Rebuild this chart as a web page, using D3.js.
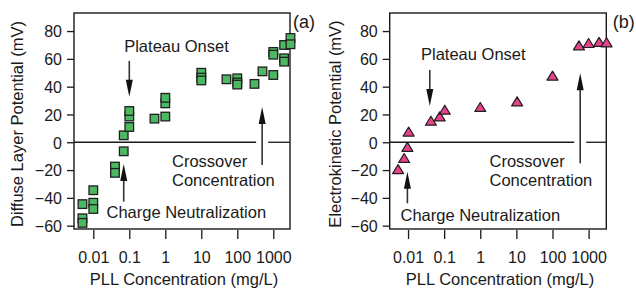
<!DOCTYPE html>
<html><head><meta charset="utf-8">
<script src="https://cdn.jsdelivr.net/npm/d3@7"></script>
<style>
html,body{margin:0;padding:0;background:#fff;}
svg{display:block;font-family:"Liberation Sans",Arial,sans-serif;}
</style></head>
<body>
<svg id="c" width="636" height="288"></svg>
<script>
// ---------- data ----------
const xTickValues = [0.01, 0.1, 1, 10, 100, 1000];
const xTickLabels = ["0.01", "0.1", "1", "10", "100", "1000"];
const yTickValues = [-60, -40, -20, 0, 20, 40, 60, 80];

// panel (a) diffuse layer potential
const concA = [0.005, 0.005, 0.005, 0.01, 0.01, 0.01, 0.04, 0.04, 0.07, 0.07,
               0.1, 0.1, 0.1, 0.5, 1, 1, 1, 10, 10, 10,
               50, 100, 100, 100, 300, 500, 1000, 1000, 1000,
               2000, 2000, 2000, 3000, 3000];
const potA = [-44.5, -54.7, -58, -34.5, -43.5, -48, -17.5, -22, 5, -6.5,
              11, 18.5, 22.5, 17, 18.5, 28, 32, 50, 46.5, 44.5,
              45.3, 46, 43, 41.5, 42, 51, 48.4, 65, 63,
              70, 60.4, 58, 75, 70.5];

// panel (b) electrokinetic potential
const concB = [0.0053, 0.0078, 0.0096, 0.0104, 0.043, 0.075, 0.104, 1, 10.5, 100, 540, 1000, 1950, 3150];
const potB = [-19.5, -11.5, -3.5, 7.5, 15.3, 18.4, 23.2, 25.2, 29.2, 47.7, 69.5, 71.2, 72, 71.7];

const annA = {plateau: 0.1, charge: 0.07, crossover: 490};
const annB = {plateau: 0.04, charge: 0.0096, crossover: 585};

// ---------- drawing ----------
const svg = d3.select("#c");
const ink = "#1a1a1a";

function panel(opt) {
  const x = d3.scaleLog().domain(opt.xdom).range([opt.left, opt.right]);
  const y = d3.scaleLinear().domain([-62.4, 93]).range([opt.bottom, opt.top]);
  const g = svg.append("g");

  // zero line with gap around crossover arrow
  const cx = x(opt.ann.crossover);
  g.append("line").attr("x1", opt.left).attr("x2", cx - 6).attr("y1", y(0)).attr("y2", y(0))
    .attr("stroke", ink).attr("stroke-width", 1.3);
  g.append("line").attr("x1", cx + 6).attr("x2", opt.right).attr("y1", y(0)).attr("y2", y(0))
    .attr("stroke", ink).attr("stroke-width", 1.3);

  // axes
  const ya = g.append("g").attr("transform", `translate(${opt.left},0)`)
    .call(d3.axisLeft(y).tickValues(yTickValues).tickSize(7).tickPadding(5).tickFormat(d3.format("d")));
  const xa = g.append("g").attr("transform", `translate(0,${opt.bottom + 1})`)
    .call(d3.axisBottom(x).tickValues(xTickValues).tickSize(9).tickPadding(13)
      .tickFormat((d, i) => xTickLabels[i]));
  [ya, xa].forEach(a => {
    a.select(".domain").remove();
    a.selectAll("line").attr("stroke", ink).attr("stroke-width", 1.3);
    a.selectAll("text").attr("fill", ink).style("font-size", "16px")
      .style("font-family", '"Liberation Sans",Arial,sans-serif');
  });
  ya.selectAll("text").attr("dy", "0.36em");

  // frame
  g.append("rect").attr("x", opt.left).attr("y", opt.top)
    .attr("width", opt.right - opt.left).attr("height", opt.bottom - opt.top)
    .attr("fill", "none").attr("stroke", ink).attr("stroke-width", 1.4);

  // titles
  g.append("text").attr("x", (opt.left + opt.right) / 2 + 2).attr("y", 285)
    .attr("text-anchor", "middle").attr("fill", ink).style("font-size", "16.5px").text("PLL Concentration (mg/L)");
  g.append("text").attr("transform", `translate(${opt.ytx},${(opt.top + opt.bottom) / 2 + 3}) rotate(-90)`)
    .attr("text-anchor", "middle").attr("fill", ink).style("font-size", "16.5px").text(opt.ytitle);
  g.append("text").attr("x", opt.right + opt.tagDx).attr("y", 28).attr("fill", ink)
    .style("font-size", "18px").text(opt.tag);

  // arrows
  function arrow(xv, y0, y1) {
    const px = x(xv), p0 = y(y0), p1 = y(y1);
    const dir = p1 > p0 ? 1 : -1;
    const headLen = 17, hw = 3.5;
    g.append("line").attr("x1", px).attr("x2", px).attr("y1", p0).attr("y2", p1 - dir * headLen + dir)
      .attr("stroke", "#333").attr("stroke-width", 1.6);
    g.append("path").attr("d", `M${px},${p1} L${px - hw},${p1 - dir * headLen} L${px + hw},${p1 - dir * headLen} Z`)
      .attr("fill", "#111");
  }
  opt.arrows.forEach(a => arrow(opt.ann[a.k], a.from, a.to));

  // annotation text
  opt.labels.forEach(l => {
    g.append("text").attr("x", l.x).attr("y", l.y).attr("text-anchor", l.anchor || "start")
      .attr("fill", ink).style("font-size", "16.5px").text(l.t);
  });

  return {x, y, g};
}

const A = panel({
  left: 74, right: 290, top: 13, bottom: 229, xdom: [Math.pow(10, -2.536), Math.pow(10, 3.464)],
  ytx: 23, ytitle: "Diffuse Layer Potential (mV)", tag: "(a)", tagDx: 3, ann: annA,
  arrows: [{k: "plateau", from: 58.5, to: 32.8}, {k: "crossover", from: -16.3, to: 25.4}, {k: "charge", from: -42.7, to: -15.6}],
  labels: [{t: "Plateau Onset", x: 176.5, y: 51.5, anchor: "middle"},
           {t: "Crossover", x: 172, y: 166.5}, {t: "Concentration", x: 172, y: 185.5},
           {t: "Charge Neutralization", x: 106.5, y: 217.5}]
});
const B = panel({
  left: 389.7, right: 606.3, top: 13, bottom: 229, xdom: [Math.pow(10, -2.508), Math.pow(10, 3.49)],
  ytx: 341, ytitle: "Electrokinetic Potential (mV)", tag: "(b)", tagDx: 6.5, ann: annB,
  arrows: [{k: "plateau", from: 52, to: 26.1}, {k: "crossover", from: -15.1, to: 49.6}, {k: "charge", from: -43.9, to: -21.2}],
  labels: [{t: "Plateau Onset", x: 473.3, y: 60, anchor: "middle"},
           {t: "Crossover", x: 489.5, y: 167.3}, {t: "Concentration", x: 489.5, y: 185.7},
           {t: "Charge Neutralization", x: 400.5, y: 221}]
});

// markers
A.g.append("g").selectAll("rect").data(concA).join("rect")
  .attr("x", (d) => A.x(d) - 4.3).attr("y", (d, i) => A.y(potA[i]) - 4.3)
  .attr("width", 8.6).attr("height", 8.6)
  .attr("fill", "#4db862").attr("stroke", "#1f1f1f").attr("stroke-width", 1.3);

B.g.append("g").selectAll("path").data(concB).join("path")
  .attr("d", (d, i) => {
    const cx = B.x(d), cy = B.y(potB[i]);
    return `M${cx},${cy - 4.8} L${cx + 5.5},${cy + 4.2} L${cx - 5.5},${cy + 4.2} Z`;
  })
  .attr("fill", "#e8428a").attr("stroke", "#1f1f1f").attr("stroke-width", 1.2).attr("stroke-linejoin", "round");
</script>
</body></html>
